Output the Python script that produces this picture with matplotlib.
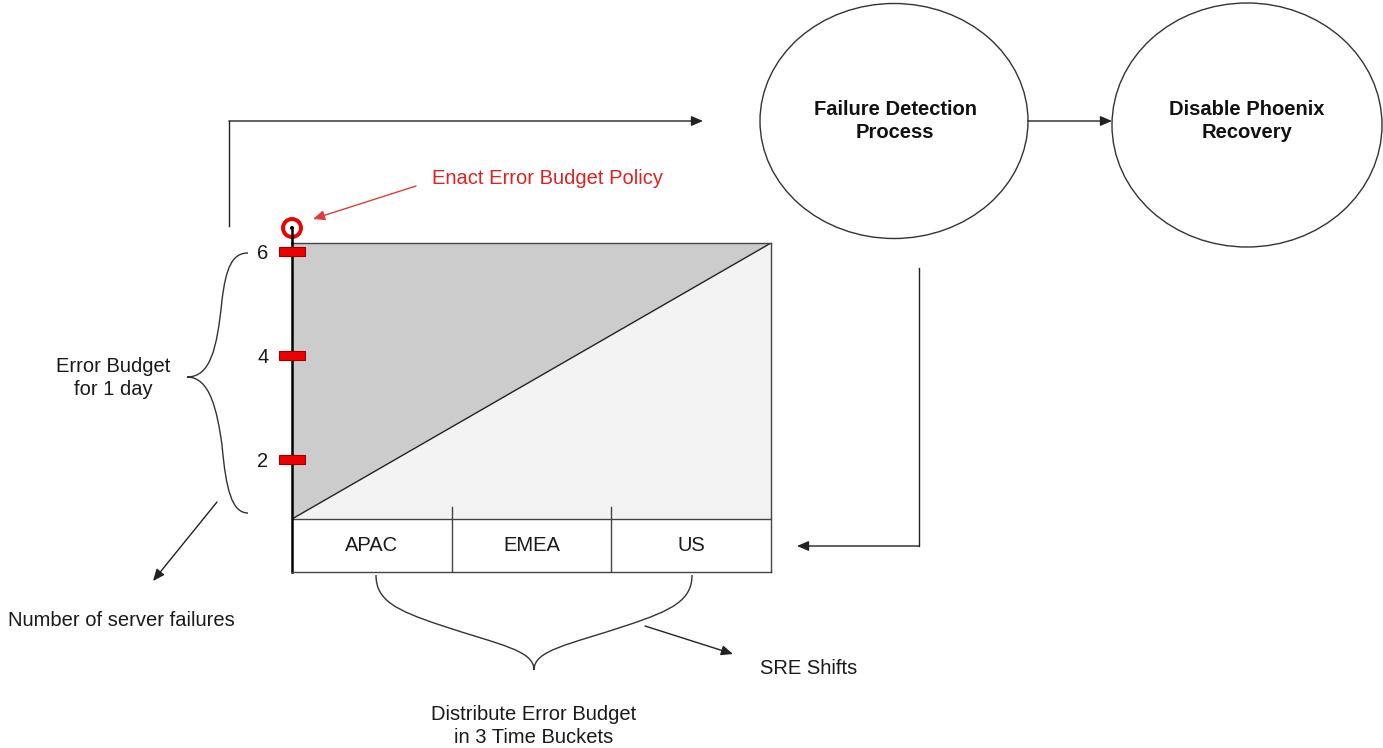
import matplotlib
matplotlib.use("Agg")
import matplotlib.pyplot as plt
from matplotlib.patches import Ellipse, Circle, Rectangle, Polygon, FancyArrowPatch, PathPatch
from matplotlib.path import Path

plt.rcParams['font.family'] = ['Liberation Sans', 'DejaVu Sans']

# ---- data ----
failure_ticks = [2, 4, 6]
failure_labels = ["2", "4", "6"]
shifts = ["APAC", "EMEA", "US"]
budget_base = 0.865      # failures level where the budget ramp starts
budget_top = 6.173       # failures level at the end of the day
y_min = -0.154           # lower limit (table row)
process_steps = ["Failure Detection\nProcess", "Disable Phoenix\nRecovery"]

W, H = 1383, 748
fig = plt.figure(figsize=(W / 100, H / 100), dpi=100)
fig.patch.set_facecolor("white")

FS = 14.5
LS = 1.22
EDGE = "#444444"
TXT = "#1a1a1a"

# ---- chart axes ----
L, R, T, B = 292, 771, 243, 572
ax = fig.add_axes([L / W, (H - B) / H, (R - L) / W, (B - T) / H])
ax.set_xlim(0, len(shifts))
ax.set_ylim(y_min, budget_top)
ax.set_facecolor("white")
n = len(shifts)
ax.add_patch(Polygon([(0, budget_top), (n, budget_top), (0, budget_base)],
                     closed=True, facecolor="#cccccc", edgecolor="none"))
ax.add_patch(Polygon([(0, budget_base), (n, budget_top), (n, budget_base)],
                     closed=True, facecolor="#f3f3f3", edgecolor="none"))
ax.plot([0, n], [budget_base, budget_top], color="#222222", lw=1.0)
ax.axhline(budget_base, color=EDGE, lw=1.0)
for i in range(1, n):
    ax.plot([i, i], [y_min, budget_base + 0.23], color=EDGE, lw=1.0)
for i, s in enumerate(shifts):
    ax.text(i + 0.5, (y_min + budget_base) / 2, s, ha="center", va="center",
            fontsize=FS, color=TXT)
for sp in ["top", "right", "bottom"]:
    ax.spines[sp].set_color(EDGE)
    ax.spines[sp].set_linewidth(1.0)
ax.spines["left"].set_color("black")
ax.spines["left"].set_linewidth(1.8)
ax.set_xticks([])
ax.set_yticks(failure_ticks)
ax.set_yticklabels(failure_labels, fontsize=FS, color=TXT)
ax.tick_params(axis="y", length=0, pad=17)
px_x = n / (R - L)
px_y = (budget_top - y_min) / (B - T)
for v in failure_ticks:
    ax.add_patch(Rectangle((-13 * px_x, v - 4.5 * px_y), 26 * px_x, 9 * px_y,
                           facecolor="#ee0000", edgecolor="#990000", lw=0.8,
                           clip_on=False, zorder=5))

# ---- overlay axes (pixel coordinates) ----
ov = fig.add_axes([0, 0, 1, 1])
ov.set_xlim(0, W)
ov.set_ylim(H, 0)
ov.set_facecolor("none")
ov.axis("off")


def arrow(p0, p1, color="#222222", lw=1.0):
    ov.add_patch(FancyArrowPatch(p0, p1, arrowstyle="-|>,head_length=0.7,head_width=0.3",
                                 mutation_scale=10, color=color, lw=lw,
                                 shrinkA=0, shrinkB=0))


# axis extension to the red marker
ov.plot([292, 292], [228, 243], color="black", lw=1.8)
ov.add_patch(Circle((292, 228), 9, facecolor="none", edgecolor="#ee0000", lw=2.8))
ov.add_patch(Circle((292, 228), 2, facecolor="black", edgecolor="none"))

# red annotation
arrow((416, 186), (313, 219), color="#e03c3c")
ov.text(432, 178, "Enact Error Budget Policy", color="#dd2222", fontsize=FS,
        ha="left", va="center")

# process circles
ov.add_patch(Ellipse((894, 121), 268, 235, facecolor="none", edgecolor="#333333", lw=1.0))
ov.add_patch(Ellipse((1247, 125), 270, 244, facecolor="none", edgecolor="#333333", lw=1.0))
ov.text(895, 121, process_steps[0], ha="center", va="center", fontsize=FS,
        fontweight="bold", color="#111111", linespacing=LS)
ov.text(1247, 121, process_steps[1], ha="center", va="center", fontsize=FS,
        fontweight="bold", color="#111111", linespacing=LS)
arrow((1028, 121), (1112, 121))

# top connector
ov.plot([229, 229], [226, 121], color="#222222", lw=1.0)
arrow((229, 121), (703, 121))

# right connector
ov.plot([919, 919], [268, 546], color="#222222", lw=1.0)
arrow((919, 546), (797, 546))

# left brace
lb = Path([(248, 253), (232, 253), (226, 268), (222, 300),
           (217, 350), (210, 377), (187, 377),
           (210, 377), (217, 410), (222, 445),
           (226, 490), (232, 513), (248, 513)],
          [Path.MOVETO] + [Path.CURVE4] * 12)
ov.add_patch(PathPatch(lb, facecolor="none", edgecolor="#333333", lw=1.0))
ov.text(113, 378, "Error Budget\nfor 1 day", ha="center", va="center", fontsize=FS,
        color=TXT, linespacing=LS)
arrow((217, 502), (153, 581))
ov.text(8, 621, "Number of server failures", ha="left", va="center", fontsize=FS,
        color=TXT)

# bottom brace
bb = Path([(376, 575), (376, 600), (395, 610), (440, 625),
           (500, 645), (534, 650), (534, 670),
           (534, 650), (568, 645), (628, 625),
           (673, 610), (692, 600), (692, 575)],
          [Path.MOVETO] + [Path.CURVE4] * 12)
ov.add_patch(PathPatch(bb, facecolor="none", edgecolor="#333333", lw=1.0))
ov.text(534, 726, "Distribute Error Budget\nin 3 Time Buckets", ha="center", va="center",
        fontsize=FS, color=TXT, linespacing=LS)
arrow((645, 626), (733, 654))
ov.text(760, 668, "SRE Shifts", ha="left", va="center", fontsize=FS, color=TXT)

fig.savefig("out.png", dpi=100, facecolor="white")
